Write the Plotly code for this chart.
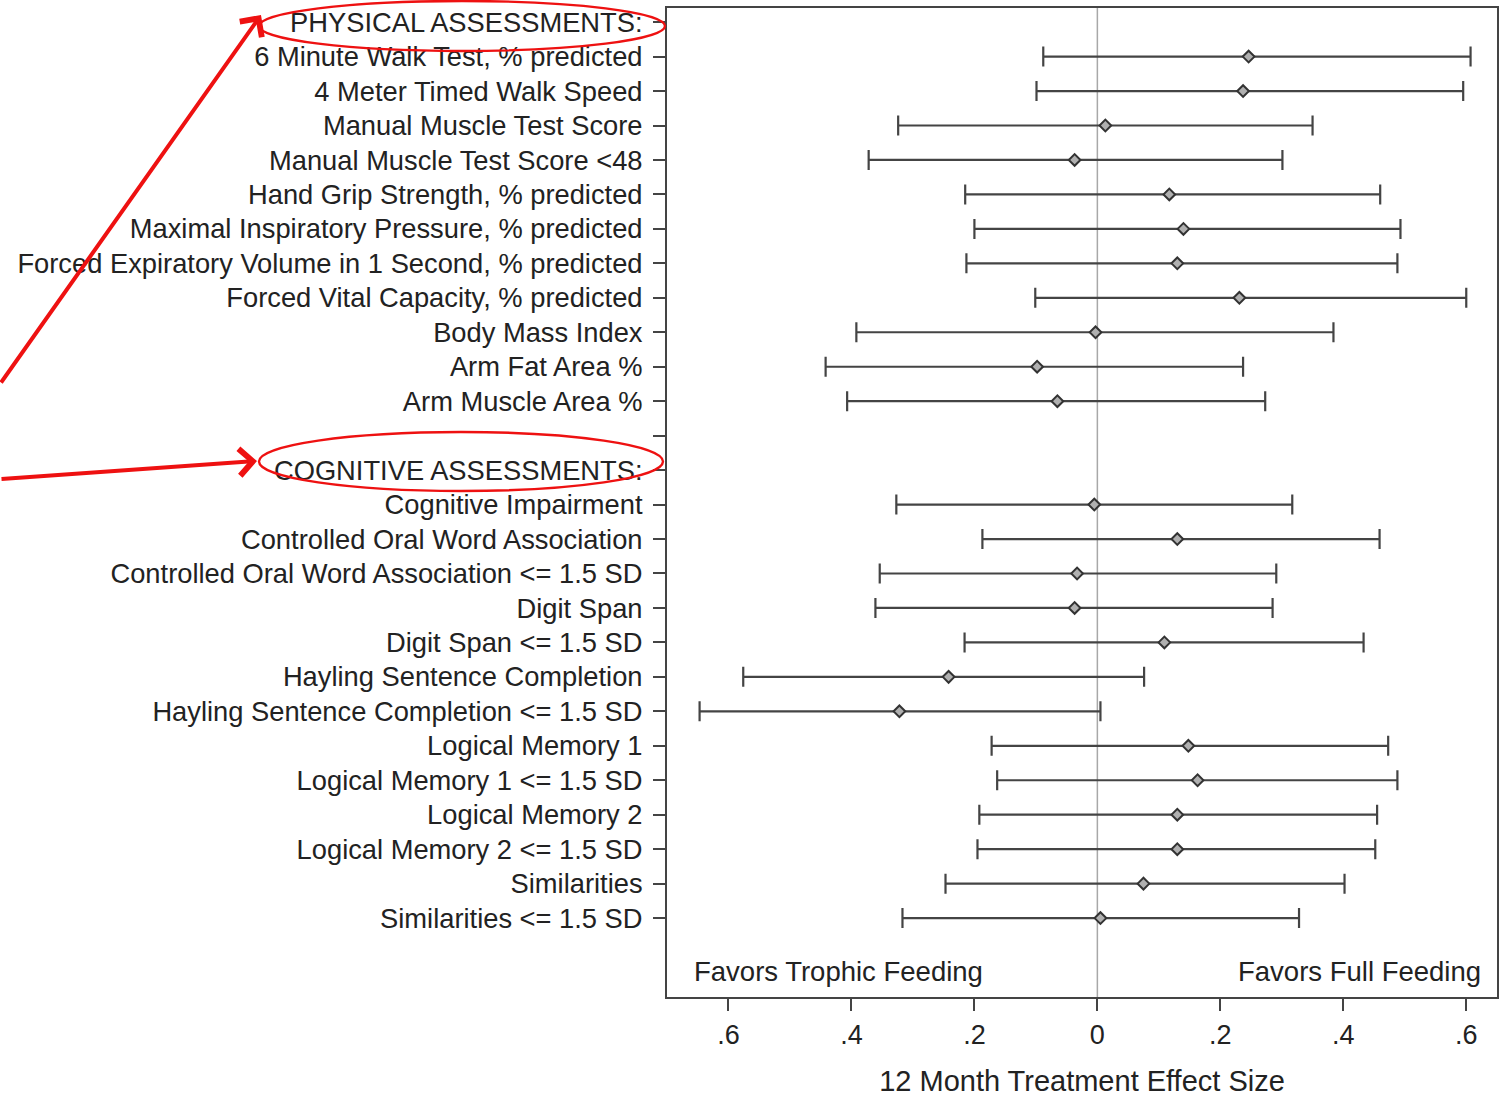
import plotly.graph_objects as go

# ---------------- data ----------------
physical_header = "PHYSICAL ASSESSMENTS:"
physical_labels = [
    "6 Minute Walk Test, % predicted",
    "4 Meter Timed Walk Speed",
    "Manual Muscle Test Score",
    "Manual Muscle Test Score <48",
    "Hand Grip Strength, % predicted",
    "Maximal Inspiratory Pressure, % predicted",
    "Forced Expiratory Volume in 1 Second, % predicted",
    "Forced Vital Capacity, % predicted",
    "Body Mass Index",
    "Arm Fat Area %",
    "Arm Muscle Area %",
]
physical_est = [0.246, 0.237, 0.013, -0.037, 0.117, 0.140, 0.130, 0.231, -0.003, -0.098, -0.065]
physical_lo = [-0.088, -0.099, -0.324, -0.372, -0.215, -0.200, -0.213, -0.101, -0.392, -0.442, -0.407]
physical_hi = [0.607, 0.595, 0.350, 0.301, 0.460, 0.493, 0.488, 0.600, 0.384, 0.237, 0.273]

cognitive_header = "COGNITIVE ASSESSMENTS:"
cognitive_labels = [
    "Cognitive Impairment",
    "Controlled Oral Word Association",
    "Controlled Oral Word Association <= 1.5 SD",
    "Digit Span",
    "Digit Span <= 1.5 SD",
    "Hayling Sentence Completion",
    "Hayling Sentence Completion <= 1.5 SD",
    "Logical Memory 1",
    "Logical Memory 1 <= 1.5 SD",
    "Logical Memory 2",
    "Logical Memory 2 <= 1.5 SD",
    "Similarities",
    "Similarities <= 1.5 SD",
]
cognitive_est = [-0.005, 0.130, -0.033, -0.037, 0.109, -0.242, -0.322, 0.148, 0.163, 0.130, 0.130, 0.075, 0.005]
cognitive_lo = [-0.327, -0.187, -0.354, -0.361, -0.216, -0.576, -0.647, -0.172, -0.163, -0.192, -0.195, -0.247, -0.317]
cognitive_hi = [0.317, 0.459, 0.291, 0.285, 0.433, 0.076, 0.005, 0.473, 0.488, 0.455, 0.452, 0.402, 0.328]

x_tickvals = [-0.6, -0.4, -0.2, 0, 0.2, 0.4, 0.6]
x_ticktext = [".6", ".4", ".2", "0", ".2", ".4", ".6"]
x_title = "12 Month Treatment Effect Size"
left_note = "Favors Trophic Feeding"
right_note = "Favors Full Feeding"

# ---------------- build rows ----------------
row_labels = [physical_header] + physical_labels + ["", cognitive_header] + cognitive_labels
y_phys = list(range(1, 1 + len(physical_labels)))
start_cog = 1 + len(physical_labels) + 2
y_cog = list(range(start_cog, start_cog + len(cognitive_labels)))

ys = y_phys + y_cog
est = physical_est + cognitive_est
lo = physical_lo + cognitive_lo
hi = physical_hi + cognitive_hi
err_plus = [h - e for h, e in zip(hi, est)]
err_minus = [e - l for e, l in zip(est, lo)]

# ---------------- layout geometry (pixels) ----------------
W, H = 1501, 1097
ML, MR, MT, MB = 667, 2, 8, 100
PW = W - ML - MR
PH = H - MT - MB

def px(xp):
    return (xp - ML) / PW

def py(yp):
    return (H - MB - yp) / PH

FONT = "Liberation Sans, Arial, sans-serif"
TXT = "#222222"
LINE = "#444444"
LBL = 27.3

fig = go.Figure()
fig.add_trace(go.Scatter(
    x=est, y=ys, mode="markers",
    marker=dict(symbol="diamond", size=9, color="#b0b0b0",
                line=dict(color="#333333", width=2)),
    error_x=dict(type="data", symmetric=False, array=err_plus, arrayminus=err_minus,
                 color=LINE, thickness=2.2, width=10),
    showlegend=False, hoverinfo="skip",
))

n_rows = len(row_labels)
fig.update_layout(
    width=W, height=H, autosize=False,
    margin=dict(l=ML, r=MR, t=MT, b=MB),
    paper_bgcolor="white", plot_bgcolor="white",
    font=dict(family=FONT, size=LBL, color=TXT),
    xaxis=dict(
        range=[-0.7, 0.65], tickvals=x_tickvals, ticktext=x_ticktext,
        ticks="outside", ticklen=12, tickwidth=2, tickcolor=LINE,
        showline=True, linecolor=LINE, linewidth=2, mirror=True,
        showgrid=False, zeroline=False,
        tickfont=dict(size=27, color=TXT), ticklabelstandoff=1,
        title=dict(text=x_title, font=dict(size=29, color=TXT), standoff=24),
    ),
    yaxis=dict(
        range=[n_rows + 1.29, -0.41],
        tickvals=list(range(n_rows)), ticktext=row_labels,
        ticks="outside", ticklen=12, tickwidth=2, tickcolor=LINE,
        showline=True, linecolor=LINE, linewidth=2, mirror=True,
        showgrid=False, zeroline=False,
        tickfont=dict(size=LBL, color=TXT), ticklabelstandoff=5,
    ),
)

# reference line at 0
fig.add_shape(type="line", xref="x", yref="paper", x0=0, x1=0, y0=0, y1=1,
              line=dict(color="#a8a8a8", width=1.5), layer="below")

fig.add_annotation(x=-0.660, y=n_rows + 0.54, xref="x", yref="y", text=left_note,
                   showarrow=False, xanchor="left", yanchor="middle",
                   font=dict(size=27.5, color=TXT))
fig.add_annotation(x=0.627, y=n_rows + 0.54, xref="x", yref="y", text=right_note,
                   showarrow=False, xanchor="right", yanchor="middle",
                   font=dict(size=27.5, color=TXT))

RED = "#ee1111"
# ellipses around headers
fig.add_shape(type="circle", xref="paper", yref="paper",
              x0=px(258), x1=px(665), y0=py(51), y1=py(1),
              line=dict(color=RED, width=2.4))
fig.add_shape(type="circle", xref="paper", yref="paper",
              x0=px(258), x1=px(663), y0=py(491), y1=py(432),
              line=dict(color=RED, width=2.4))

# arrows
fig.add_annotation(xref="paper", yref="paper", x=px(260), y=py(15), text="",
                   showarrow=True, ax=-270, ay=369, arrowhead=4, arrowsize=1.3,
                   arrowwidth=4, arrowcolor=RED)
fig.add_annotation(xref="paper", yref="paper", x=px(256), y=py(461), text="",
                   showarrow=True, ax=-266, ay=18, arrowhead=4, arrowsize=1.3,
                   arrowwidth=4, arrowcolor=RED)

fig.write_html("out.html")
